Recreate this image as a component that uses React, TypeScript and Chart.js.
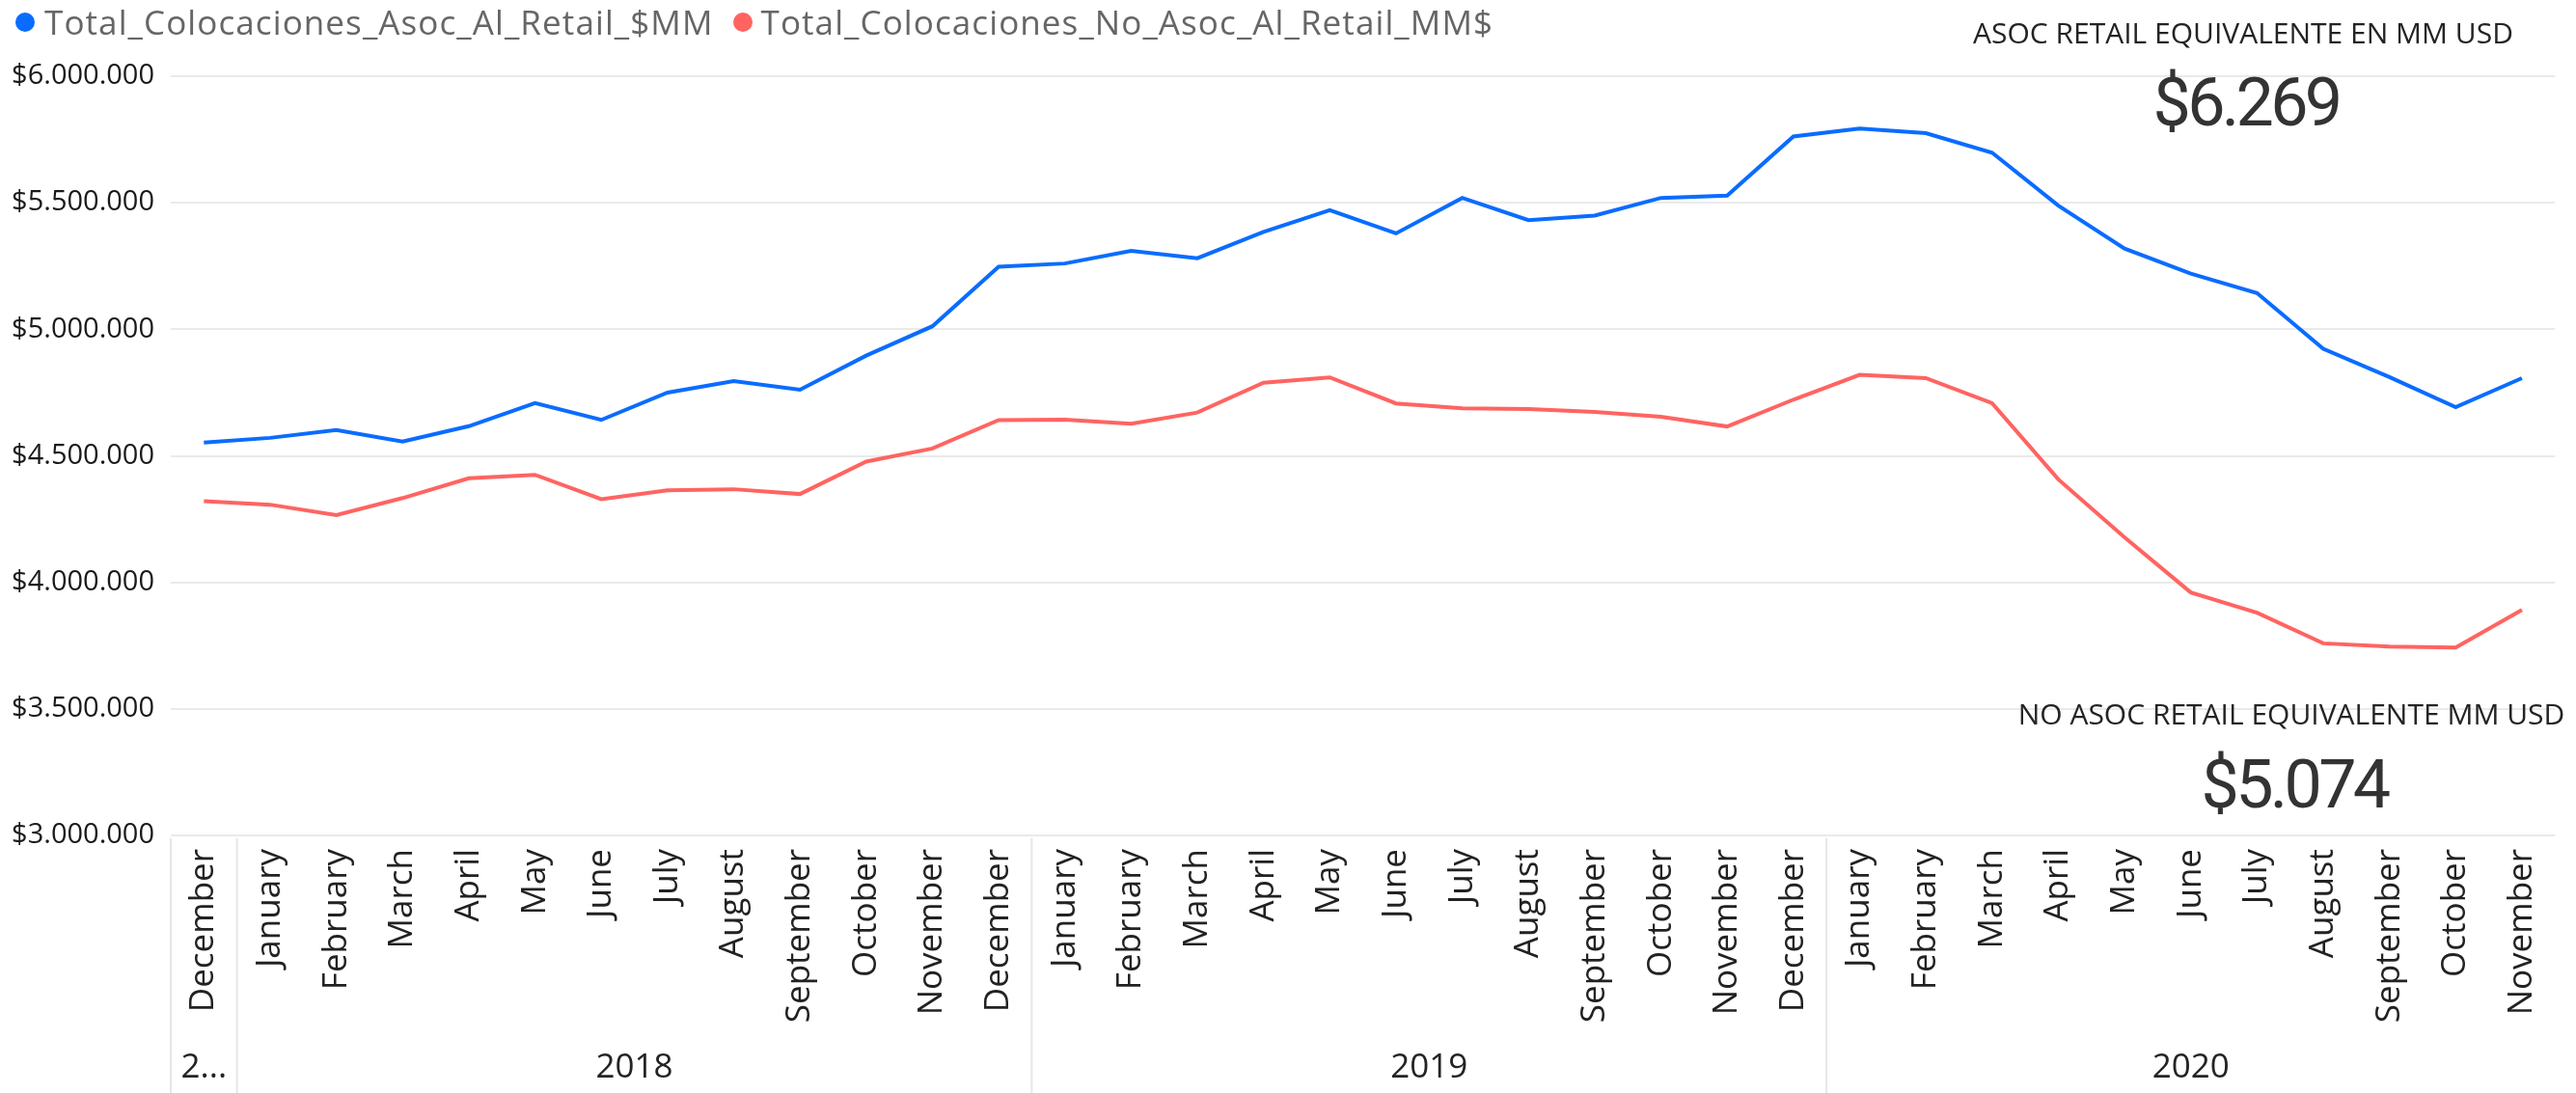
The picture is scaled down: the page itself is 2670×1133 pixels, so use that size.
import React, { useEffect, useRef } from "react";
import { Chart, registerables } from "chart.js";

Chart.register(...registerables);

// ---- data ----
const monthLabels = [
  "December",
  "January", "February", "March", "April", "May", "June", "July", "August", "September", "October", "November", "December",
  "January", "February", "March", "April", "May", "June", "July", "August", "September", "October", "November", "December",
  "January", "February", "March", "April", "May", "June", "July", "August", "September", "October", "November",
];
const yearLabels = ["2017", "2018", "2019", "2020"];
const yearSpans = [1, 12, 12, 11];

const asocRetail = [
  4552000,
  4571000, 4602000, 4556000, 4617000, 4708000, 4642000, 4750000, 4795000, 4761000, 4896000, 5012000, 5247000,
  5260000, 5310000, 5281000, 5385000, 5471000, 5379000, 5519000, 5431000, 5449000, 5519000, 5528000, 5762000,
  5793000, 5775000, 5698000, 5489000, 5319000, 5220000, 5143000, 4923000, 4811000, 4692000, 4807000,
];
const noAsocRetail = [
  4321000,
  4307000, 4266000, 4333000, 4411000, 4425000, 4329000, 4364000, 4368000, 4349000, 4477000, 4529000, 4641000,
  4643000, 4627000, 4671000, 4789000, 4810000, 4707000, 4688000, 4685000, 4673000, 4654000, 4616000, 4722000,
  4820000, 4807000, 4708000, 4407000, 4178000, 3960000, 3880000, 3759000, 3746000, 3742000, 3891000,
];
const seriesNames = ["Total_Colocaciones_Asoc_Al_Retail_$MM", "Total_Colocaciones_No_Asoc_Al_Retail_MM$"];
const seriesColors = ["#0A6CFF", "#FF6461"];

const yMin = 3000000;
const yMax = 6000000;
const yStep = 500000;

const kpiTitles = ["ASOC RETAIL EQUIVALENTE EN MM USD", "NO ASOC RETAIL EQUIVALENTE MM USD"];
const kpiValues = ["$6.269", "$5.074"];

// ---- helpers ----
const fmtMoney = (v: number) =>
  "$" + Math.round(v).toString().replace(/\B(?=(\d{3})+(?!\d))/g, ".");

const FONT = "'Open Sans', 'Segoe UI', sans-serif";

const yearGroupPlugin = {
  id: "yearGroups",
  afterDraw(chart: any) {
    const { ctx, chartArea, scales } = chart;
    const x = scales.x;
    const bw = x.getPixelForValue(1) - x.getPixelForValue(0);
    ctx.save();
    ctx.strokeStyle = "#E6E6E6";
    ctx.lineWidth = 2;
    ctx.font = `35px ${FONT}`;
    ctx.fillStyle = "#252423";
    ctx.textAlign = "center";
    ctx.textBaseline = "middle";
    let idx = 0;
    yearLabels.forEach((label, g) => {
      const left = x.getPixelForValue(idx) - bw / 2;
      const right = x.getPixelForValue(idx + yearSpans[g] - 1) + bw / 2;
      ctx.beginPath();
      ctx.moveTo(left, chartArea.bottom + 3);
      ctx.lineTo(left, chart.height);
      ctx.stroke();
      const maxW = right - left - 12;
      let text = label;
      if (ctx.measureText(text).width > maxW) {
        let s = label;
        while (s.length > 0 && ctx.measureText(s + "...").width > maxW) s = s.slice(0, -1);
        text = s + "...";
      }
      ctx.fillText(text, (left + right) / 2, 1107);
      idx += yearSpans[g];
    });
    ctx.restore();
  },
};

export default function App() {
  const canvasRef = useRef<HTMLCanvasElement | null>(null);

  useEffect(() => {
    document.body.style.margin = "0";
    document.documentElement.style.overflow = "hidden";
    const canvas = canvasRef.current;
    if (!canvas) return;
    const chart = new Chart(canvas, {
      type: "line",
      data: {
        labels: monthLabels,
        datasets: [
          {
            label: seriesNames[0],
            data: asocRetail,
            borderColor: seriesColors[0],
            backgroundColor: seriesColors[0],
            borderWidth: 4,
            pointRadius: 0,
            tension: 0,
          },
          {
            label: seriesNames[1],
            data: noAsocRetail,
            borderColor: seriesColors[1],
            backgroundColor: seriesColors[1],
            borderWidth: 4,
            pointRadius: 0,
            tension: 0,
          },
        ],
      },
      options: {
        responsive: false,
        animation: false,
        devicePixelRatio: 1,
        layout: { padding: { top: 79, right: 4, left: 0, bottom: 0 } },
        plugins: {
          legend: { display: false },
          tooltip: { enabled: false },
        },
        scales: {
          x: {
            type: "category",
            offset: true,
            grid: { display: false, drawTicks: false, offset: true },
            border: { display: false },
            ticks: {
              autoSkip: false,
              maxRotation: 90,
              minRotation: 90,
              padding: 14,
              color: "#222222",
              font: { family: FONT, size: 35 },
            },
            afterFit(scale: any) {
              scale.height = 267;
            },
          },
          y: {
            min: yMin,
            max: yMax,
            grid: { color: "#EAEAEA", lineWidth: 2, drawTicks: false },
            border: { display: false },
            ticks: {
              stepSize: yStep,
              padding: 17,
              color: "#1A1A1A",
              font: { family: FONT, size: 29 },
              callback: (v: any) => fmtMoney(Number(v)),
            },
            afterFit(scale: any) {
              scale.width = 177;
            },
          },
        },
      },
      plugins: [yearGroupPlugin],
    });
    return () => chart.destroy();
  }, []);

  const legendText: React.CSSProperties = {
    fontFamily: FONT,
    fontSize: 35,
    letterSpacing: "1.1px",
    color: "#666666",
    lineHeight: "46px",
    whiteSpace: "nowrap",
  };
  const dot = (c: string): React.CSSProperties => ({
    width: 20,
    height: 20,
    borderRadius: 10,
    background: c,
    flex: "0 0 auto",
  });
  const kpiTitle: React.CSSProperties = {
    position: "absolute",
    width: 800,
    textAlign: "center",
    fontFamily: FONT,
    fontSize: 30,
    lineHeight: "30px",
    color: "#252423",
    whiteSpace: "nowrap",
  };
  const kpiValue: React.CSSProperties = {
    position: "absolute",
    width: 600,
    textAlign: "center",
    fontFamily: "Roboto, sans-serif",
    fontSize: 70,
    lineHeight: "70px",
    letterSpacing: "-3.7px",
    color: "#333333",
    whiteSpace: "nowrap",
  };

  return (
    <div style={{ position: "relative", width: 2670, height: 1133, background: "#fff", overflow: "hidden" }}>
      <canvas ref={canvasRef} width={2670} height={1133} style={{ display: "block", width: 2670, height: 1133 }} />
      <div style={{ position: "absolute", left: 16, top: 0, display: "flex", alignItems: "center", height: 46 }}>
        <div style={dot(seriesColors[0])} />
        <div style={{ ...legendText, marginLeft: 10 }}>{seriesNames[0]}</div>
        <div style={{ ...dot(seriesColors[1]), marginLeft: 20 }} />
        <div style={{ ...legendText, marginLeft: 9 }}>{seriesNames[1]}</div>
      </div>
      <div style={{ ...kpiTitle, left: 2325 - 400, top: 19 }}>{kpiTitles[0]}</div>
      <div style={{ ...kpiValue, left: 2328 - 300, top: 71 }}>{kpiValues[0]}</div>
      <div style={{ ...kpiTitle, left: 2375 - 400, top: 725 }}>{kpiTitles[1]}</div>
      <div style={{ ...kpiValue, left: 2378 - 300, top: 778 }}>{kpiValues[1]}</div>
    </div>
  );
}
